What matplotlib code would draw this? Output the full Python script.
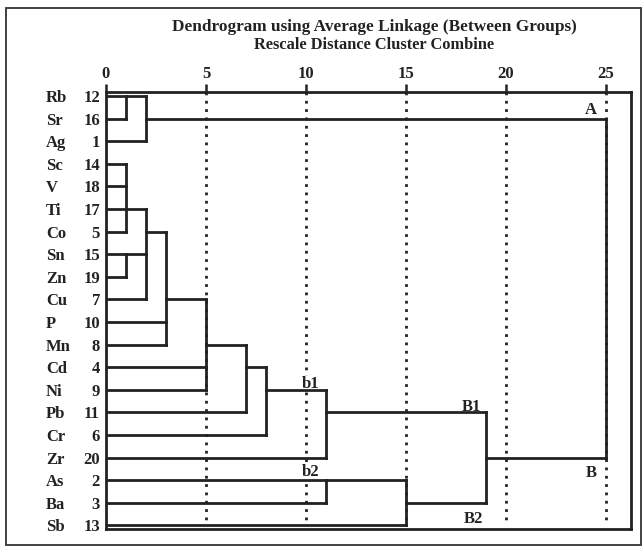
import matplotlib
matplotlib.use("Agg")
import matplotlib.pyplot as plt
from matplotlib.patches import Rectangle
from matplotlib.transforms import blended_transform_factory

# ---------------- data ----------------
elements = ['Rb', 'Sr', 'Ag', 'Sc', 'V', 'Ti', 'Co', 'Sn', 'Zn', 'Cu',
            'P', 'Mn', 'Cd', 'Ni', 'Pb', 'Cr', 'Zr', 'As', 'Ba', 'Sb']
case_numbers = [12, 16, 1, 14, 18, 17, 5, 15, 19, 7,
                10, 8, 4, 9, 11, 6, 20, 2, 3, 13]

# merges: node ids 0..19 are leaves, merge k creates node 20+k
merge_children = [
    [0, 1],        # 20 Rb-Sr
    [20, 2],       # 21 A
    [3, 4, 5, 6],  # 22 Sc V Ti Co
    [7, 8],        # 23 Sn Zn
    [22, 23, 9],   # 24
    [24, 10, 11],  # 25
    [25, 12, 13],  # 26
    [26, 14],      # 27
    [27, 15],      # 28
    [28, 16],      # 29 b1
    [17, 18],      # 30
    [30, 19],      # 31 b2
    [29, 31],      # 32 B
    [21, 32],      # 33 root
]
merge_distance = [1, 2, 1, 1, 2, 3, 5, 7, 8, 11, 11, 15, 19, 25]
merge_line_row = [0, 1, 5, 7, 6, 9, 11, 12, 13, 14, 17, 18, 16, None]

tick_values = [0, 5, 10, 15, 20, 25]
cluster_labels = ['A', 'B', 'b1', 'b2', 'B1', 'B2']
cluster_label_pos = [(24.25, 0.55), (24.25, 16.6), (10.25, 12.65),
                     (10.25, 16.55), (18.25, 13.67), (18.35, 18.63)]

title_lines = ['Dendrogram using Average Linkage (Between Groups)',
               'Rescale Distance Cluster Combine']

# ---------------- figure ----------------
W, H = 644, 546
fig = plt.figure(figsize=(W / 100, H / 100), dpi=100)
FONT = 'Liberation Serif'
INK = '#222222'
LW = 2.0

ax = fig.add_axes([106 / W, 1 - 529 / H, 525 / W, 437 / H])
ax.set_xlim(0, 26.25)
ax.set_ylim(19.16, -0.18)

n_leaves = len(elements)
node_row = list(range(n_leaves)) + [None] * len(merge_children)
node_start = [0.0] * n_leaves + [None] * len(merge_children)
for k, (ch, d, r) in enumerate(zip(merge_children, merge_distance, merge_line_row)):
    node_row[n_leaves + k] = r
    node_start[n_leaves + k] = d

for k, (ch, d) in enumerate(zip(merge_children, merge_distance)):
    rows = []
    for c in ch:
        ax.plot([node_start[c], d], [node_row[c], node_row[c]],
                color=INK, lw=LW, solid_capstyle='projecting', zorder=3)
        rows.append(node_row[c])
    ax.plot([d, d], [min(rows), max(rows)], color=INK, lw=LW,
            solid_capstyle='projecting', zorder=3)

# dotted guide lines
for t in tick_values[1:]:
    ax.plot([t, t], [-0.18, 19.0], color=INK, lw=2.0,
            linestyle=(0, (1, 2)), zorder=1)

# frame
for s in ax.spines.values():
    s.set_linewidth(LW)
    s.set_color(INK)

ax.xaxis.tick_top()
ax.set_xticks(tick_values)
ax.set_xticklabels([str(t) for t in tick_values], fontfamily=FONT,
                   fontweight='bold', fontsize=12)
ax.tick_params(axis='x', direction='out', length=6, width=1.8,
               color=INK, pad=1.5, labelcolor=INK)
ax.set_yticks([])

# leaf labels
tr = blended_transform_factory(fig.transFigure, ax.transData)
for i, (el, num) in enumerate(zip(elements, case_numbers)):
    ax.text(46 / W, i, el, transform=tr, ha='left', va='center_baseline',
            fontfamily=FONT, fontweight='bold', fontsize=12, color=INK)
    ax.text(100 / W, i, str(num), transform=tr, ha='right', va='center_baseline',
            fontfamily=FONT, fontweight='bold', fontsize=12, color=INK)

# cluster labels (white background hides the dotted guide, below solid lines)
for lab, (x, y) in zip(cluster_labels, cluster_label_pos):
    ax.text(x, y, lab, ha='center', va='center_baseline', fontfamily=FONT,
            fontweight='bold', fontsize=12, color=INK, zorder=2,
            bbox=dict(facecolor='white', edgecolor='none', pad=0.3))

# title
fig.text(374 / W, 1 - 27 / H, title_lines[0], ha='center', va='center',
         fontfamily=FONT, fontweight='bold', fontsize=12.4, color=INK)
fig.text(374 / W, 1 - 45 / H, title_lines[1], ha='center', va='center',
         fontfamily=FONT, fontweight='bold', fontsize=11.8, color=INK)

# outer border
fig.add_artist(Rectangle((6 / W, 1 / H), (641 - 6) / W, (538 - 1) / H,
                         transform=fig.transFigure, fill=False,
                         lw=1.3, ec='#333333'))

fig.savefig('out.png', dpi=100)
